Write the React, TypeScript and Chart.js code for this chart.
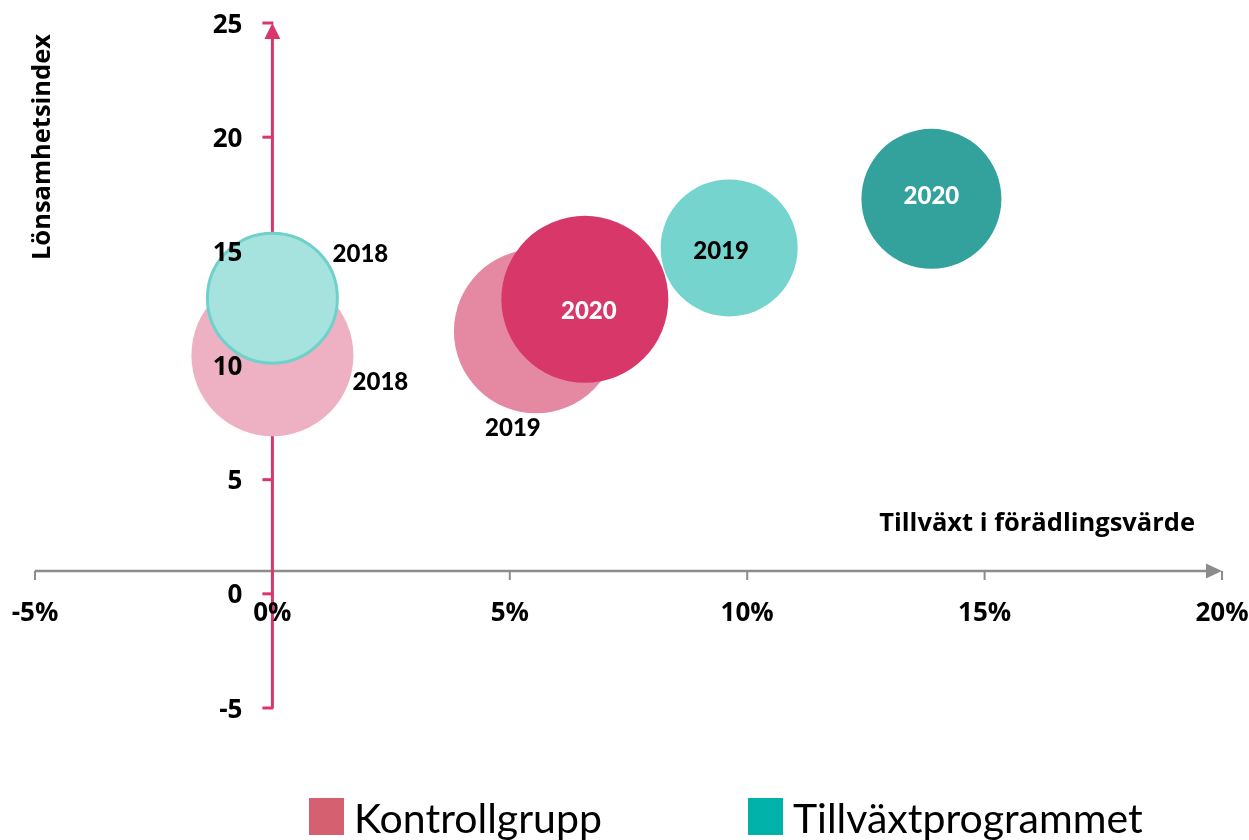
import React, { useEffect, useRef } from "react";
import { Chart, registerables } from "chart.js";

Chart.register(...registerables);

// ---- data ----
const years = ["2018", "2019", "2020"];
const kontrollGrowth = [0, 5.55, 6.58]; // % growth in value added
const kontrollIndex = [10.45, 11.5, 12.9]; // profitability index
const kontrollSize = [81, 82, 83.5];
const tillvaxtGrowth = [0, 9.62, 13.88];
const tillvaxtIndex = [12.95, 15.15, 17.3];
const tillvaxtSize = [66.5, 68.5, 70];

const xTicks = [-5, 0, 5, 10, 15, 20];
const yTicks = [-5, 0, 5, 10, 15, 20, 25];
const xAxisCross = 1;

const seriesNames = ["Kontrollgrupp", "Tillväxtprogrammet"];
const xTitle = "Tillväxt i förädlingsvärde";
const yTitle = "Lönsamhetsindex";

// ---- styles ----
const kontrollColors = ["#EEB0C3", "#E589A3", "#D83769"];
const tillvaxtColors = ["#A6E3DF", "#76D4CE", "#33A29C"];
const tillvaxtBorders = ["#6FD1CA", "#76D4CE", "#33A29C"];
const tillvaxtBorderW = [3, 0, 0];
const kontrollLabelColors = ["#000", "#000", "#fff"];
const tillvaxtLabelColors = ["#000", "#000", "#fff"];
const kontrollLabelOffset = [[108, 26], [-23, 96], [4, 11]];
const tillvaxtLabelOffset = [[88, -45], [-8, 2], [0, -4]];
const legendColors = ["#D46070", "#00B2A9"];

const SANS = "'Open Sans', sans-serif";
const HUMAN = "Lato, sans-serif";

const overlayPlugin = {
  id: "overlay",
  beforeDatasetsDraw(chart: any) {
    const { ctx, scales } = chart;
    const xs = scales.x;
    const ys = scales.y;
    const x0 = xs.getPixelForValue(0);
    const yc = ys.getPixelForValue(xAxisCross);
    ctx.save();
    // x axis (gray)
    const gray = "#8C8C8C";
    ctx.strokeStyle = gray;
    ctx.fillStyle = gray;
    ctx.lineWidth = 2.5;
    const xl = xs.getPixelForValue(xTicks[0]);
    const xr = xs.getPixelForValue(xTicks[xTicks.length - 1]);
    ctx.beginPath();
    ctx.moveTo(xl, yc);
    ctx.lineTo(xr - 12, yc);
    ctx.stroke();
    ctx.beginPath();
    ctx.moveTo(xr, yc);
    ctx.lineTo(xr - 16, yc - 7.5);
    ctx.lineTo(xr - 16, yc + 7.5);
    ctx.closePath();
    ctx.fill();
    ctx.lineWidth = 2;
    for (const t of xTicks) {
      const px = xs.getPixelForValue(t);
      ctx.beginPath();
      ctx.moveTo(px, yc);
      ctx.lineTo(px, yc + 9);
      ctx.stroke();
    }
    // y axis (pink)
    const pink = "#D83769";
    ctx.strokeStyle = pink;
    ctx.fillStyle = pink;
    ctx.lineWidth = 3;
    const yb = ys.getPixelForValue(yTicks[0]);
    const yt = ys.getPixelForValue(yTicks[yTicks.length - 1]);
    ctx.beginPath();
    ctx.moveTo(x0, yb);
    ctx.lineTo(x0, yt + 12);
    ctx.stroke();
    ctx.beginPath();
    ctx.moveTo(x0, yt);
    ctx.lineTo(x0 - 8, yt + 16);
    ctx.lineTo(x0 + 8, yt + 16);
    ctx.closePath();
    ctx.fill();
    for (const t of yTicks) {
      const py = ys.getPixelForValue(t);
      ctx.beginPath();
      ctx.moveTo(x0 + 1, py);
      ctx.lineTo(x0 - 10, py);
      ctx.stroke();
    }
    ctx.restore();
  },
  afterDatasetsDraw(chart: any) {
    const { ctx, scales } = chart;
    const xs = scales.x;
    const ys = scales.y;
    const x0 = xs.getPixelForValue(0);
    const yc = ys.getPixelForValue(xAxisCross);
    ctx.save();
    ctx.fillStyle = "#000";
    ctx.font = `bold 26px ${SANS}`;
    ctx.textBaseline = "alphabetic";
    // y tick labels
    ctx.textAlign = "right";
    for (const t of yTicks) {
      const py = ys.getPixelForValue(t);
      ctx.fillText(String(t), x0 - 30, py + 9.5);
    }
    // x tick labels
    ctx.textAlign = "center";
    for (const t of xTicks) {
      const px = xs.getPixelForValue(t);
      ctx.fillText(`${t}%`, px, yc + 50);
    }
    // axis titles
    ctx.font = `bold 25.5px ${SANS}`;
    ctx.textAlign = "right";
    ctx.fillText(xTitle, 1195, 531);
    ctx.save();
    ctx.translate(50, 147);
    ctx.rotate(-Math.PI / 2);
    ctx.textAlign = "center";
    ctx.fillText(yTitle, 0, 0);
    ctx.restore();

    // bubble labels
    ctx.font = `900 24px ${HUMAN}`;
    ctx.textAlign = "center";
    const groups = [
      { gx: kontrollGrowth, gy: kontrollIndex, off: kontrollLabelOffset, col: kontrollLabelColors },
      { gx: tillvaxtGrowth, gy: tillvaxtIndex, off: tillvaxtLabelOffset, col: tillvaxtLabelColors },
    ];
    for (const g of groups) {
      years.forEach((yr, i) => {
        const px = xs.getPixelForValue(g.gx[i]) + g.off[i][0];
        const py = ys.getPixelForValue(g.gy[i]) + g.off[i][1];
        ctx.fillStyle = g.col[i];
        ctx.fillText(yr, px, py + 9);
      });
    }

    // legend
    ctx.textAlign = "left";
    ctx.font = `41px ${HUMAN}`;
    const legendX = [309, 748];
    seriesNames.forEach((name, i) => {
      ctx.fillStyle = legendColors[i];
      ctx.fillRect(legendX[i], 798, 35, 37);
      ctx.fillStyle = "#000";
      ctx.fillText(name, legendX[i] + 45, 833);
    });
    ctx.restore();
  },
};

export default function App() {
  const ref = useRef<HTMLCanvasElement | null>(null);
  useEffect(() => {
    if (!ref.current) return;
    const chart = new Chart(ref.current, {
      type: "bubble",
      data: {
        datasets: [
          {
            label: seriesNames[0],
            order: 1,
            data: kontrollGrowth.map((g, i) => ({ x: g, y: kontrollIndex[i], r: kontrollSize[i] })),
            backgroundColor: kontrollColors,
            borderColor: kontrollColors,
            borderWidth: 0,
            clip: false as any,
          },
          {
            label: seriesNames[1],
            order: 0,
            data: tillvaxtGrowth.map((g, i) => ({ x: g, y: tillvaxtIndex[i], r: tillvaxtSize[i] - tillvaxtBorderW[i] / 2 })),
            backgroundColor: tillvaxtColors,
            borderColor: tillvaxtBorders,
            borderWidth: tillvaxtBorderW,
            clip: false as any,
          },
        ],
      },
      options: {
        responsive: false,
        animation: false,
        devicePixelRatio: 1,
        events: [],
        layout: { autoPadding: false, padding: { left: 35, right: 27, top: 23, bottom: 132 } },
        scales: {
          x: { type: "linear", min: -5, max: 20, display: false },
          y: { type: "linear", min: -5, max: 25, display: false },
        },
        plugins: { legend: { display: false }, tooltip: { enabled: false } },
      },
      plugins: [overlayPlugin],
    });
    return () => chart.destroy();
  }, []);
  return (
    <div style={{ position: "absolute", left: 0, top: 0, width: 1249, height: 840, background: "#fff" }}>
      <canvas ref={ref} width={1249} height={840} />
    </div>
  );
}
